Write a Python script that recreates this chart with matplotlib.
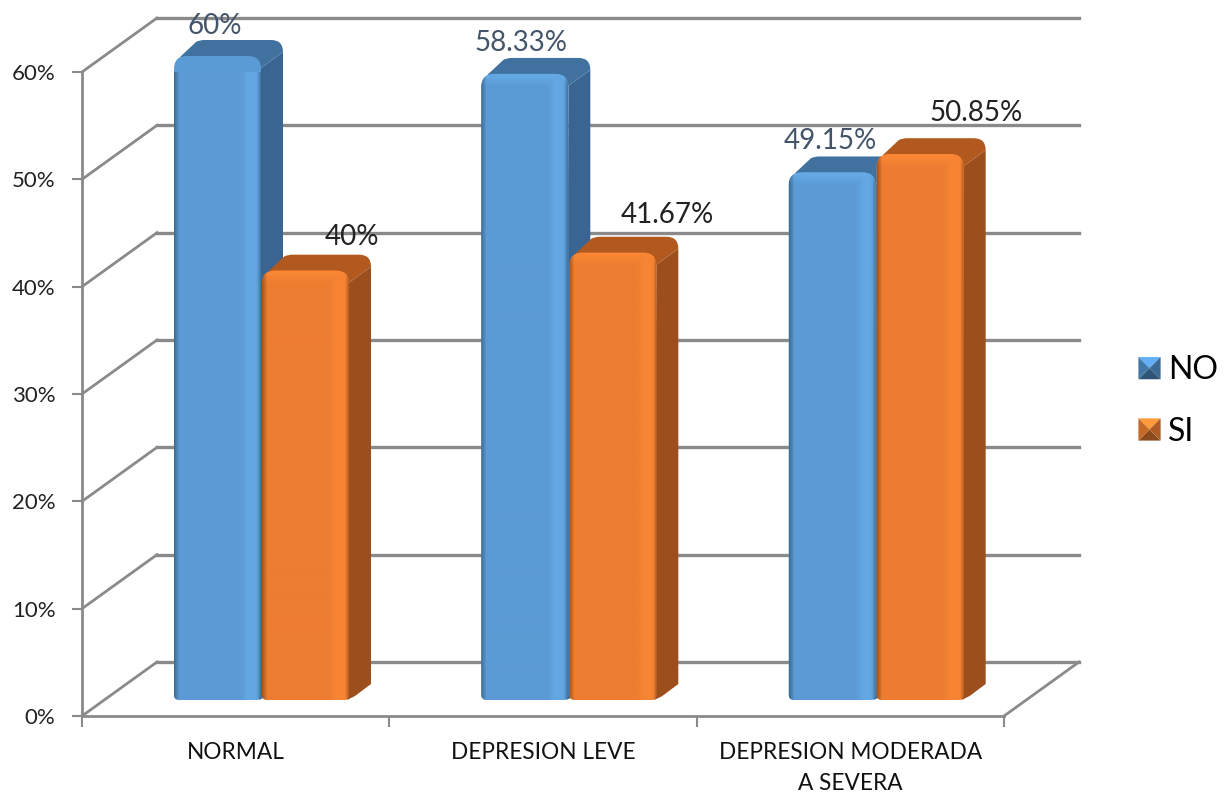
import numpy as np
import matplotlib
matplotlib.use('Agg')
import matplotlib.pyplot as plt
from matplotlib.colors import to_rgb
from matplotlib.legend_handler import HandlerBase
from matplotlib.patches import PathPatch, Patch, Polygon
from matplotlib.path import Path

categories = ['NORMAL', 'DEPRESION LEVE', 'DEPRESION MODERADA\nA SEVERA']
no_values = [60, 58.33, 49.15]
si_values = [40, 41.67, 50.85]
no_labels = ['60%', '58.33%', '49.15%']
si_labels = ['40%', '41.67%', '50.85%']
y_ticks = [0, 10, 20, 30, 40, 50, 60]

plt.rcParams['font.family'] = ['Lato', 'DejaVu Sans']

W, H = 1230, 795
fig = plt.figure(figsize=(W / 100, H / 100), dpi=100)
ax = fig.add_axes([82 / W, (H - 716) / H, 922 / W, 644 / H])
ax.set_xlim(0, 3)
ax.set_ylim(0, 60)

# data units per pixel on each axis
PX = 3 / 922
PY = 60 / 644

GRID = '#8A8A8A'
WALL_DX = 75 * PX
WALL_DY = 54 * PY

# back wall and floor
for v in y_ticks:
    ax.plot([WALL_DX, 3 + WALL_DX], [v + WALL_DY, v + WALL_DY], color=GRID, lw=2.4, clip_on=False, zorder=1)
    ax.plot([0, WALL_DX], [v, v + WALL_DY], color=GRID, lw=2.0, clip_on=False, zorder=1)
ax.plot([3, 3 + WALL_DX], [0, WALL_DY], color=GRID, lw=2.0, clip_on=False, zorder=1)

for side in ['top', 'right']:
    ax.spines[side].set_visible(False)
for side in ['left', 'bottom']:
    ax.spines[side].set_color(GRID)
    ax.spines[side].set_linewidth(2.0)
    ax.spines[side].set_zorder(2)

ax.set_yticks(y_ticks)
ax.set_yticklabels([f'{v}%' for v in y_ticks], fontsize=16, color='#222222')
ax.tick_params(axis='y', length=7, width=1.5, color=GRID, pad=12)
ax.set_xticks([0, 1, 2, 3])
ax.set_xticklabels([])
ax.tick_params(axis='x', length=8, width=1.5, color=GRID)
ax.set_xticks([0.5, 1.5, 2.5], minor=True)
ax.set_xticklabels(categories, minor=True, fontsize=16.3, color='#111111', linespacing=1.55)
ax.tick_params(axis='x', which='minor', length=0, pad=19)


def front_path(x0, x1, y0, y1):
    rx, ry = 13 * PX, 13 * PY
    bx, by = 6 * PX, 5 * PY
    verts = [(x0, y0 + by), (x0, y1 - ry), (x0, y1), (x0 + rx, y1), (x1 - rx, y1), (x1, y1), (x1, y1 - ry),
             (x1, y0 + by), (x1, y0), (x1 - bx, y0), (x0 + bx, y0), (x0, y0), (x0, y0 + by)]
    codes = [Path.MOVETO, Path.LINETO, Path.CURVE3, Path.CURVE3, Path.LINETO, Path.CURVE3, Path.CURVE3,
             Path.LINETO, Path.CURVE3, Path.CURVE3, Path.LINETO, Path.CURVE3, Path.CURVE3]
    return Path(verts, codes)


def front_shading(base, light, w, h):
    # bevelled face: soft dark left edge, soft light band near the right edge and along the top
    base, light = np.array(to_rgb(base)), np.array(to_rgb(light))
    xs = np.arange(w)[None, :]
    ys = np.arange(h)[:, None]
    band = np.clip((xs - (w - 20)) / 6, 0, 1) * np.clip(((w - 3) - xs) / 3, 0, 1)
    top = np.clip(1 - ys / 13, 0, 1) * 0.9
    mix = np.maximum(band * 0.6 * np.ones((h, w)), top * np.ones((h, w)))
    dark = 0.3 * np.clip(1 - xs / 5, 0, 1) + 0.3 * np.clip((xs - (w - 4)) / 4, 0, 1)
    dark = dark * np.ones((h, w))
    img = base[None, None, :] + mix[:, :, None] * (light - base)
    return img * (1 - dark[:, :, None])


def draw_bar(x0, value, width, face, light, side, top, z):
    x1 = x0 + width
    base = 16 * PY
    y1 = base + value
    dx, dy = 22 * PX, 16 * PY
    rx, ry = 12 * PX, 12 * PY

    side_verts = [(x1 - 2 * PX, base), (x1 + dx - 16 * PX, base + 4 * PY), (x1 + dx, base + dy),
                  (x1 + dx, y1 + dy - ry), (x1, y1 - ry), (x1 - 2 * PX, base)]
    ax.add_patch(Polygon(side_verts, closed=True, facecolor=side, edgecolor='none', clip_on=False, zorder=z))

    top_path = Path(
        [(x0 + 6 * PX, y1 - 1 * PY), (x0 + dx, y1 + dy - 2 * PY), (x0 + dx + 3 * PX, y1 + dy),
         (x0 + dx + 9 * PX, y1 + dy), (x1 + dx - rx, y1 + dy), (x1 + dx, y1 + dy),
         (x1 + dx, y1 + dy - ry), (x1, y1 - ry), (x0 + 6 * PX, y1 - 1 * PY)],
        [Path.MOVETO, Path.LINETO, Path.CURVE3, Path.CURVE3, Path.LINETO, Path.CURVE3, Path.CURVE3,
         Path.LINETO, Path.CLOSEPOLY])
    ax.add_patch(PathPatch(top_path, facecolor=top, edgecolor='none', clip_on=False, zorder=z))

    patch = PathPatch(front_path(x0, x1, base, y1), facecolor=face, edgecolor='none', clip_on=False, zorder=z + 0.1)
    ax.add_patch(patch)
    px_w, px_h = int(round(width / PX)), int(round(value / PY))
    im = ax.imshow(front_shading(face, light, px_w, px_h), extent=[x0, x1, base, y1], aspect='auto',
                   zorder=z + 0.2, interpolation='bilinear')
    im.set_clip_box(None)
    im.set_clip_path(patch)


BLUE = dict(face='#5B9BD5', light='#67AEEB', side='#3A6491', top='#41729F')
ORANGE = dict(face='#ED7D31', light='#FF8A35', side='#9C4F1D', top='#B2591F')

bar_w = 87 * PX
no_start = 92 * PX
si_start = 180 * PX

# label shifts from the top centre of each bar, in pixels
no_shift = [(-3, 30), (-4, 31), (-2, 31)]
si_shift = [(46, 34), (54, 38), (56, 41)]

for i in range(len(categories)):
    z = 3 + i
    draw_bar(i + no_start, no_values[i], bar_w, z=z, **BLUE)
    draw_bar(i + si_start, si_values[i], bar_w, z=z + 0.5, **ORANGE)

base_y = 16 * PY
for i in range(len(categories)):
    ax.annotate(no_labels[i], (i + no_start + bar_w / 2, no_values[i] + base_y),
                xytext=(no_shift[i][0] * 0.72, no_shift[i][1] * 0.72), textcoords='offset points',
                ha='center', va='center', fontsize=20, color='#44546A', zorder=10, annotation_clip=False)
    ax.annotate(si_labels[i], (i + si_start + bar_w / 2, si_values[i] + base_y),
                xytext=(si_shift[i][0] * 0.72, si_shift[i][1] * 0.72), textcoords='offset points',
                ha='center', va='center', fontsize=20, color='#222222', zorder=10, annotation_clip=False)

ax.set_xlim(0, 3)
ax.set_ylim(0, 60)


class PyramidHandler(HandlerBase):
    # legend key drawn as a small bevelled square
    def create_artists(self, legend, orig_handle, xdescent, ydescent, width, height, fontsize, trans):
        c = np.array(to_rgb(orig_handle.get_facecolor()))
        s = 16.0
        x0 = -xdescent
        y0 = -ydescent + (height - s) / 2
        x1, y1 = x0 + s, y0 + s
        mx, my = x0 + s / 2, y0 + s / 2
        faces = [([(x0, y1), (x1, y1), (mx, my)], np.minimum(c * 1.25, 1)),
                 ([(x0, y0), (x1, y0), (mx, my)], c * 0.6),
                 ([(x0, y0), (x0, y1), (mx, my)], c * 0.85),
                 ([(x1, y0), (x1, y1), (mx, my)], c * 0.75)]
        return [Polygon(v, closed=True, facecolor=col, edgecolor='none', transform=trans) for v, col in faces]


handles = [Patch(facecolor='#4F8CC4', label='NO'), Patch(facecolor='#E87B2E', label='SI')]
leg = fig.legend(handles=handles, loc='center left', bbox_to_anchor=(1132 / W, (H - 401) / H), frameon=False,
                 fontsize=23, handler_map={Patch: PyramidHandler()}, handlelength=0.7, handletextpad=0.22,
                 labelspacing=0.98, borderpad=0.2, borderaxespad=0)

fig.savefig('out.png', dpi=100)
